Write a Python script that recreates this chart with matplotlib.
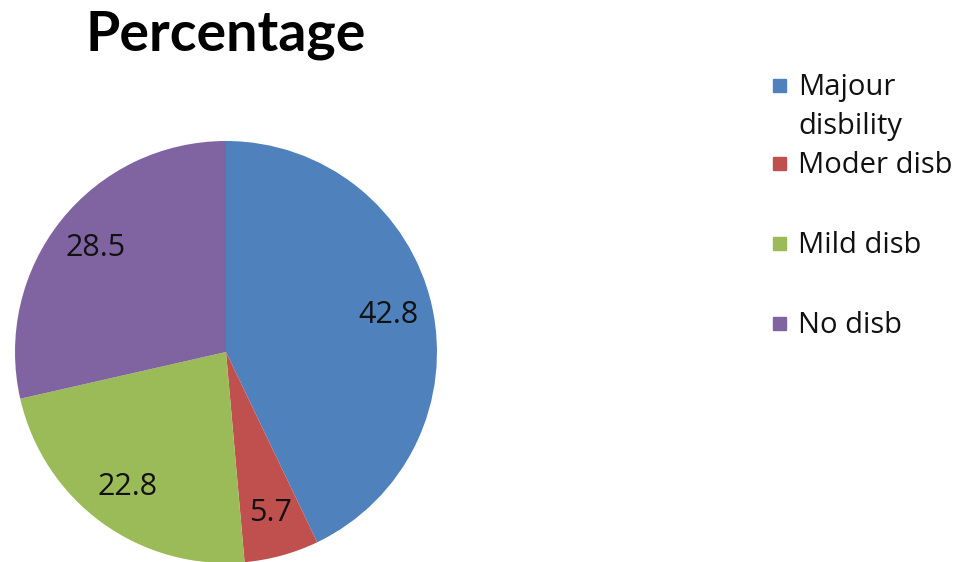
import matplotlib.pyplot as plt
from matplotlib.patches import Rectangle

labels = ["Majour\ndisbility", "Moder disb", "Mild disb", "No disb"]
values = [42.8, 5.7, 22.8, 28.5]
colors = ["#4F81BD", "#C0504D", "#9BBB59", "#8064A2"]

plt.rcParams['font.family'] = ['Open Sans', 'DejaVu Sans']

W, H = 963, 562
fig = plt.figure(figsize=(W / 100, H / 100), dpi=100)

# pie centred at (226, 352) px with radius 211 px
cx, cy, r = 226, 352, 211
ax = fig.add_axes([(cx - r) / W, (H - cy - r) / H, 2 * r / W, 2 * r / H])
total = sum(values)
wedges, texts, autotexts = ax.pie(
    values, colors=colors, startangle=90, counterclock=False,
    autopct=lambda p: f"{p * total / 100:.1f}", pctdistance=0.79,
    wedgeprops=dict(linewidth=0), textprops=dict(fontsize=22, color="#111111"))
ax.set_xlim(-1, 1)
ax.set_ylim(-1, 1)
ax.set_aspect("equal")
ax.axis("off")

fig.text(226 / W, 1 - 35 / H, "Percentage", ha="center", va="center",
         fontsize=40, fontweight="bold", family=["Lato", "DejaVu Sans"])

# legend, laid out like the Excel one
leg_y = [85, 163, 243, 323]
for lab, col, y in zip(labels, colors, leg_y):
    fig.patches.append(Rectangle((773 / W, 1 - (y + 7) / H), 13 / W, 13 / H,
                                 color=col, transform=fig.transFigure, figure=fig))
    for k, line in enumerate(lab.split("\n")):
        fig.text(798 / W, 1 - (y + 10 + 39 * k) / H, line, ha="left",
                 va="baseline", fontsize=21, color="#111111")

fig.savefig("out.png", dpi=100)
